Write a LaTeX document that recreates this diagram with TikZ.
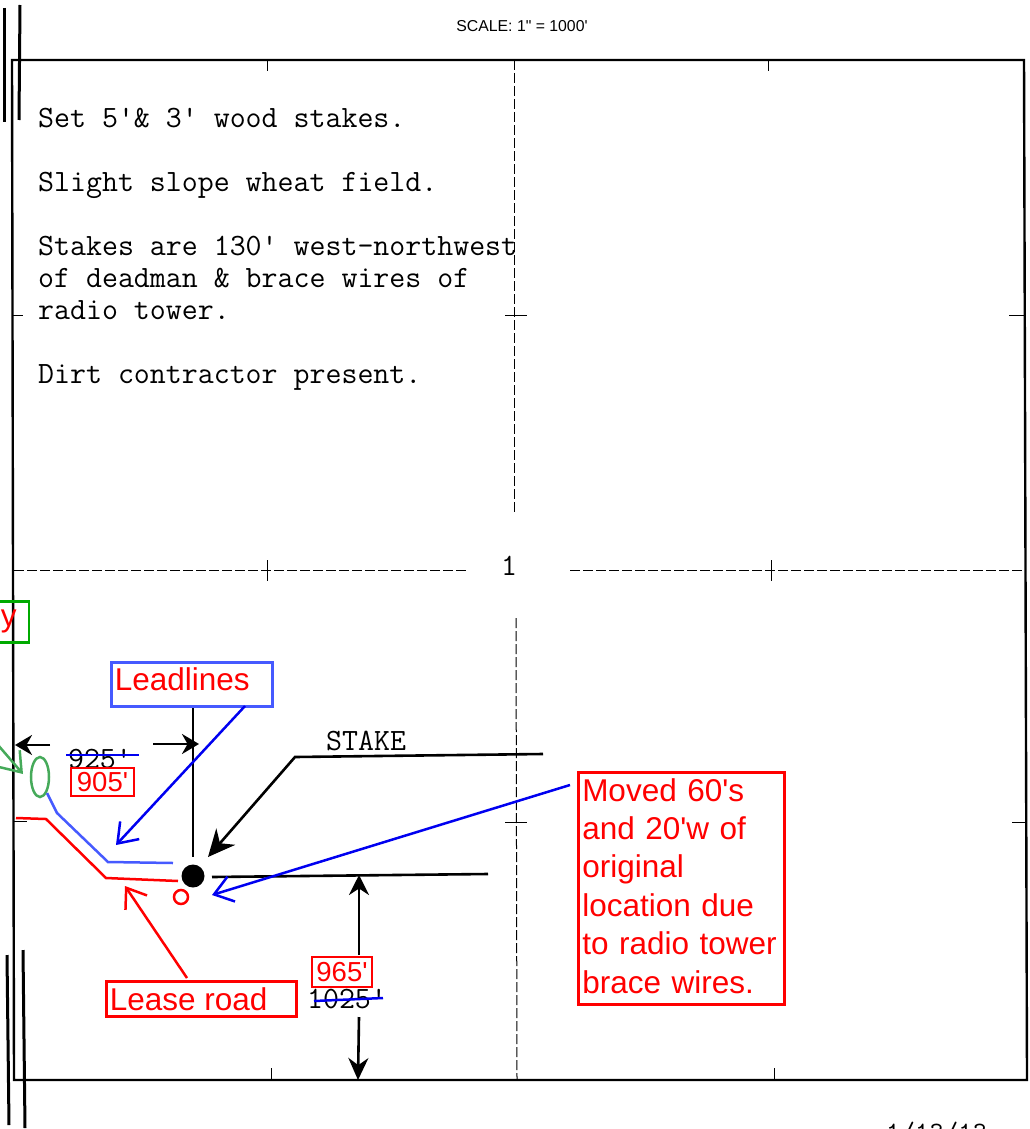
\documentclass[tikz,border=0pt]{standalone}
\usepackage{fontspec}
\setsansfont{Liberation Sans}
\usetikzlibrary{arrows.meta,shapes.geometric}
\definecolor{markred}{RGB}{255,0,0}
\definecolor{markblue}{RGB}{0,0,240}
\definecolor{leadblue}{RGB}{70,90,255}
\definecolor{markgreen}{RGB}{0,170,0}
\definecolor{ellgreen}{RGB}{70,170,90}
\begin{document}
\begin{tikzpicture}[x=1pt,y=-1pt]
    \tikzstyle{note}=[font=\ttfamily\fontsize{31}{32}\selectfont,anchor=north west,align=left,inner sep=0pt]
    \tikzstyle{dim}=[font=\ttfamily\fontsize{31}{31}\selectfont,inner sep=0pt]
    \tikzstyle{callout}=[draw=markred,text=markred,line width=2.5pt,font=\sffamily\fontsize{31.5}{38.4}\selectfont,inner sep=0pt,align=left]
    \tikzstyle{smallbox}=[callout,font=\sffamily\fontsize{27.5}{27.5}\selectfont]
    \tikzstyle{frame}=[black,line width=2.4pt]
    \tikzstyle{fine}=[black,line width=1pt]
    \tikzstyle{cut}=[black,line width=1pt,dash pattern=on 10pt off 3pt]
    \tikzstyle{leader}=[black,line width=2.6pt]
    \tikzstyle{bigtip}=[-{Stealth[length=27pt,width=25pt]}]
    \tikzstyle{smalltip}=[-{Stealth[length=17pt,width=20pt]}]
    \tikzstyle{opentip}=[line width=2.5pt,-{Straight Barb[length=18pt,width=26pt,line width=2.5pt]}]
    \useasboundingbox (0,0) rectangle (1029,1129);
    % section frame
    \coordinate (nw) at (12,60);
    \coordinate (ne) at (1024,60);
    \coordinate (se) at (1027,1080);
    \coordinate (sw) at (14,1080);
    \draw[frame] (sw) -- (nw) -- (ne) -- (se) -- cycle;
    \foreach \xa/\ya/\xb/\yb in {4/8/4/122,20/5/19/120,7/955/9/1125,23/950/25/1128}
      \draw[frame,line width=3pt] (\xa,\ya) -- (\xb,\yb);
    \foreach \xa/\ya/\xb/\yb in {267/60/267/71,768/60/768/71,271/1068/271/1080,774/1068/774/1080,
        267/560/267/581,771/560/771/581,505/315/527/315,505/822/527/822,
        12/315/23/315,14/821/27/821,1009/315/1024/315,1012/822/1027/822}
      \draw[fine] (\xa,\ya) -- (\xb,\yb);
    % quarter lines
    \draw[cut] (514,60) -- (514,515);
    \draw[cut] (516,618) -- (517,1080);
    \draw[cut] (14,570) -- (466,570);
    \draw[cut] (570,570) -- (1024,570);
    \node[dim] (sec) at (509,566) {1};
    % texts
    \node[font=\sffamily\fontsize{15.8}{15.8}\selectfont,inner sep=0pt] (scale) at (522,26) {SCALE: 1\textquotedbl{} = 1000\textquotesingle};
    \node[note] (n1) at (38,108) {Set 5'\& 3' wood stakes.};
    \node[note] (n2) at (38,172) {Slight slope wheat field.};
    \node[note] (n3) at (38,236) {Stakes are 130' west-northwest\\of deadman \& brace wires of\\radio tower.};
    \node[note] (n4) at (38,364) {Dirt contractor present.};
    \node[note] (stake) at (326,731) {STAKE};
    % well and ties
    \node[circle,fill=black,minimum size=23pt,inner sep=0pt] (well) at (193,876) {};
    \coordinate (tieN) at (193,706);
    \coordinate (tieNb) at (193,857);
    \draw[leader] (tieN) -- (tieNb);
    \coordinate (wa) at (50,745);
    \coordinate (wb) at (15,745);
    \coordinate (ea) at (153,744);
    \coordinate (eb) at (199,744);
    \draw[leader,smalltip] (wa) -- (wb);
    \draw[leader,smalltip] (ea) -- (eb);
    \node[dim] (dimw) at (100,759) {925'};
    \node[dim] (dims) at (347,999) {1025'};
    \coordinate (sa) at (543,754);
    \coordinate (sb) at (295,757);
    \coordinate (sc) at (208,857);
    \draw[leader,bigtip] (sa) -- (sb) -- (sc);
    \coordinate (la) at (212,877);
    \coordinate (lb) at (488,874);
    \draw[leader] (la) -- (lb);
    \coordinate (va) at (359,955);
    \coordinate (vb) at (359,875);
    \coordinate (vc) at (359,1017);
    \coordinate (vd) at (358,1080);
    \draw[leader,-{Stealth[length=20pt,width=20pt]}] (va) -- (vb);
    \draw[leader,-{Stealth[length=22pt,width=20pt]}] (vc) -- (vd);
    % markup
    \foreach \xa/\ya/\xb/\yb in {66/755/139/755,314/1001/383/998}
      \draw[markblue,line width=2.5pt] (\xa,\ya) -- (\xb,\yb);
    \node[callout,draw=leadblue,minimum width=161pt,minimum height=44pt,text width=156pt,anchor=north west] (lead) at (110,661) {\hspace*{1pt}Leadlines\rule[-10pt]{0pt}{10pt}};
    \node[callout,minimum width=190pt,minimum height=35pt,anchor=north west] (lease) at (105,980) {\hspace*{1pt}Lease road\hspace*{26pt}};
    \node[smallbox,minimum width=60pt,minimum height=30pt] (dimnew) at (342,972) {965\textquotesingle};
    \node[smallbox,minimum width=63pt,minimum height=28pt] (dimold) at (102.5,782) {905\textquotesingle};
    \node[callout,minimum width=206pt,minimum height=232pt,text width=200pt,anchor=north west] (moved) at (577,771) {\hspace*{1pt}Moved 60\textquotesingle s\\\hspace*{1pt}and 20\textquotesingle w of\\\hspace*{1pt}original\\\hspace*{1pt}location due\\\hspace*{1pt}to radio tower\\\hspace*{1pt}brace wires.\rule[-5pt]{0pt}{5pt}};
    \node[callout,draw=markgreen,minimum width=60pt,minimum height=41pt,anchor=north east] (access) at (30,600) {\hspace*{20pt}y};
    \coordinate (leadtip) at (116,845);
    \coordinate (movedtip) at (212,895);
    \coordinate (leasetip) at (125,886);
    \coordinate (movedst) at (570,785);
    \coordinate (leadst) at (245,706);
    \coordinate (leasest) at (187,978);
    \draw[markblue,opentip] (leadst) -- (leadtip);
    \draw[markblue,opentip] (movedst) -- (movedtip);
    \draw[markred,opentip] (leasest) -- (leasetip);
    \node[draw=ellgreen,line width=2.5pt,ellipse,minimum width=18pt,minimum height=40pt,inner sep=0pt] (pit) at (40,777) {};
    \coordinate (pitst) at (-2,745);
    \coordinate (pittip) at (23,774);
    \draw[ellgreen,opentip] (pitst) -- (pittip);
    \node[draw=markred,line width=2.5pt,circle,minimum size=14pt,inner sep=0pt] (newwell) at (181,897) {};
    \coordinate (r1) at (16,818);
    \coordinate (r2) at (46,819);
    \coordinate (r3) at (106,878);
    \coordinate (r4) at (178,881);
    \draw[markred,line width=2.5pt] (r1) -- (r2) -- (r3) -- (r4);
    \coordinate (b1) at (47,793);
    \coordinate (b2) at (57,813);
    \coordinate (b3) at (108,862);
    \coordinate (b4) at (173,863);
    \draw[leadblue,line width=2.5pt] (b1) -- (b2) -- (b3) -- (b4);
    \node[font=\ttfamily\fontsize{28}{28}\selectfont,anchor=north west,inner sep=0pt] (date) at (886,1122) {1/13/13};
\end{tikzpicture}
\end{document}
